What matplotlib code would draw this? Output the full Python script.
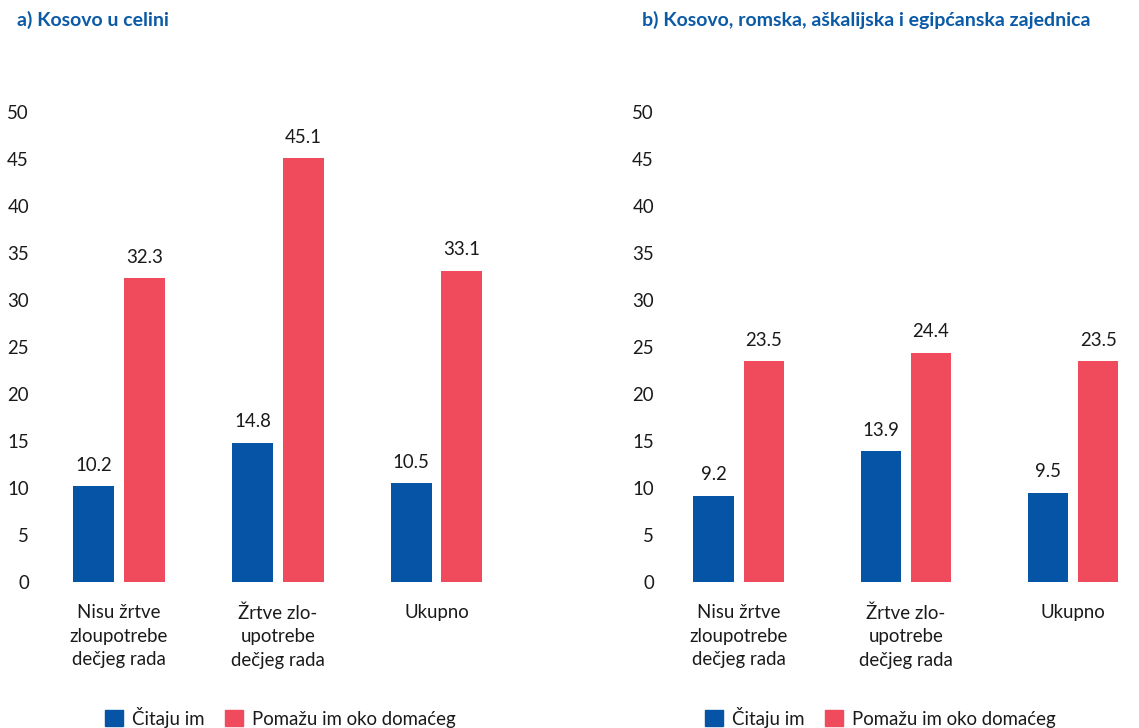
import matplotlib
matplotlib.use("Agg")
import matplotlib.pyplot as plt
from matplotlib.patches import Patch

plt.rcParams['font.family'] = ['Lato', 'DejaVu Sans']

categories = ["Nisu žrtve\nzloupotrebe\ndečjeg rada", "Žrtve zlo-\nupotrebe\ndečjeg rada", "Ukupno"]
series_names = ["Čitaju im", "Pomažu im oko domaćeg"]
a_citaju = [10.2, 14.8, 10.5]
a_pomazu = [32.3, 45.1, 33.1]
b_citaju = [9.2, 13.9, 9.5]
b_pomazu = [23.5, 24.4, 23.5]
titles = ["a) Kosovo u celini", "b) Kosovo, romska, aškalijska i egipćanska zajednica"]
yticks = [0, 5, 10, 15, 20, 25, 30, 35, 40, 45, 50]

BLUE = "#0554A6"
RED = "#EF4B5C"
TITLE_C = "#0B5AA6"
FS = 13.4

W, H = 1139, 728
fig = plt.figure(figsize=(W / 100, H / 100), dpi=100)

bottom = (H - 582) / H
height = 470 / H
axA = fig.add_axes([40 / W, bottom, 500 / W, height])
axB = fig.add_axes([665 / W, bottom, 470 / W, height])

def draw(ax, c, p, xlim, bw, off):
    x = list(range(len(categories)))
    b1 = ax.bar([i - off for i in x], c, width=bw, color=BLUE)
    b2 = ax.bar([i + off for i in x], p, width=bw, color=RED)
    for bars, vals in ((b1, c), (b2, p)):
        for r, v in zip(bars, vals):
            ax.annotate(f"{v:.1f}", (r.get_x() + r.get_width() / 2, r.get_height()),
                        xytext=(0, 9), textcoords="offset points",
                        ha="center", va="bottom", fontsize=FS, color="#1a1a1a")
    ax.set_xlim(*xlim)
    ax.set_ylim(0, 50)
    ax.set_yticks(yticks)
    ax.set_yticklabels([str(t) for t in yticks], fontsize=FS, color="#1a1a1a")
    ax.set_xticks(x)
    ax.set_xticklabels(categories, fontsize=FS, color="#1a1a1a", linespacing=1.47)
    ax.tick_params(axis="both", length=0)
    ax.tick_params(axis="x", pad=16)
    ax.tick_params(axis="y", pad=8)
    for s in ax.spines.values():
        s.set_visible(False)
    handles = [Patch(color=BLUE, label=series_names[0]), Patch(color=RED, label=series_names[1])]
    return handles

hA = draw(axA, a_citaju, a_pomazu, (-0.498, 2.652), 0.258, 0.16)
hB = draw(axB, b_citaju, b_pomazu, (-0.44, 2.37), 0.24, 0.15)

for h, cx in ((hA, 280), (hB, 880)):
    fig.legend(handles=h, loc="center", bbox_to_anchor=(cx / W, (H - 717) / H),
               ncol=2, frameon=False, fontsize=FS, handlelength=1.0, handleheight=1.0,
               handletextpad=0.45, columnspacing=1.1, borderpad=0, labelcolor="#1a1a1a")

fig.text(17 / W, (H - 20) / H, titles[0], fontsize=14, fontweight="bold", color=TITLE_C,
         ha="left", va="center")
fig.text(642 / W, (H - 20) / H, titles[1], fontsize=14, fontweight="bold", color=TITLE_C,
         ha="left", va="center")

fig.savefig("out.png", dpi=100, facecolor="white")
